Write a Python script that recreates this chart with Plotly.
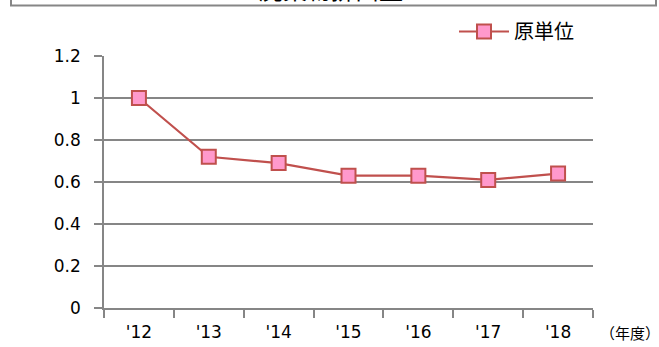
import plotly.graph_objects as go

categories = ["'12", "'13", "'14", "'15", "'16", "'17", "'18"]
values = [1.00, 0.72, 0.69, 0.63, 0.63, 0.61, 0.64]
series_name = "原単位"
title_text = "廃棄物排出量"
unit_text = "（年度）"
y_ticks = [0, 0.2, 0.4, 0.6, 0.8, 1, 1.2]

W, H = 659, 347
L, R, T, B = 104, 66, 56, 39
pw, ph = W - L - R, H - T - B

def px(x):
    return (x - L) / pw

def py(y):
    return (H - B - y) / ph

line_col = "#C0504D"
fill_col = "#FF99CC"
grid_col = "#868686"
font_num = "DejaVu Sans, sans-serif"
font_jp = "Noto Sans CJK JP"

fig = go.Figure()
fig.add_trace(go.Scatter(
    x=categories, y=values, mode="lines+markers", name=series_name,
    line=dict(color=line_col, width=2.2),
    marker=dict(symbol="square", size=14, color=fill_col,
                line=dict(color=line_col, width=2)),
))

fig.update_layout(
    width=W, height=H,
    margin=dict(l=L, r=R, t=T, b=B),
    paper_bgcolor="white", plot_bgcolor="white",
    showlegend=True,
    legend=dict(x=px(454), y=py(12), xanchor="left", yanchor="top",
                font=dict(family=font_jp, size=20, color="#000"),
                bgcolor="rgba(0,0,0,0)", itemwidth=50),
    xaxis=dict(
        type="category", tickson="boundaries", ticks="outside", ticklen=8,
        tickcolor=grid_col, tickwidth=1.5,
        showline=True, linecolor=grid_col, linewidth=1.5,
        showgrid=False, zeroline=False, automargin=False,
        tickfont=dict(family=font_num, size=17, color="#000"),
        ticklabelstandoff=8,
        range=[-0.5, 6.5],
    ),
    yaxis=dict(
        range=[0, 1.2], tickvals=y_ticks,
        ticktext=[f"{v:g}" for v in y_ticks],
        ticks="outside", ticklen=8, tickcolor=grid_col, tickwidth=1.5,
        showline=True, linecolor=grid_col, linewidth=1.5,
        showgrid=True, gridcolor=grid_col, gridwidth=1.5,
        zeroline=False, automargin=False,
        tickfont=dict(family=font_num, size=17, color="#000"),
        ticklabelstandoff=10,
    ),
)

# outer chart border (cropped frame)
fig.add_shape(type="path", xref="paper", yref="paper",
              path=f"M {px(11)},{py(-20)} L {px(11)},{py(5.5)} L {px(656)},{py(5.5)} L {px(656)},{py(-20)}",
              line=dict(color=grid_col, width=2))

# cropped title
fig.add_annotation(text=title_text, xref="paper", yref="paper",
                   x=px(331), y=py(8), xanchor="center", yanchor="bottom",
                   showarrow=False,
                   font=dict(family=font_jp, size=24, color="#000"))

# unit label
fig.add_annotation(text=unit_text, xref="paper", yref="paper",
                   x=px(598), y=py(332), xanchor="left", yanchor="middle",
                   showarrow=False,
                   font=dict(family=font_jp, size=15, color="#000"))

fig.write_html("out.html")
